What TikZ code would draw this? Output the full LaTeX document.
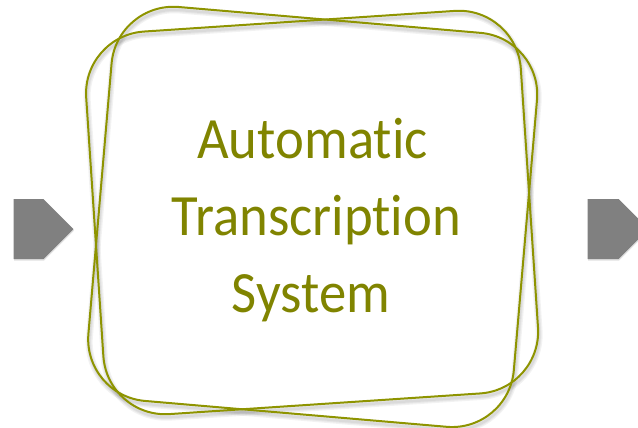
\documentclass[tikz,border=0pt]{standalone}
\usepackage{fontspec}
\setmainfont[Ligatures={NoCommon,NoRare}, FakeStretch=0.935]{Carlito}
\definecolor{olivedraw}{RGB}{142,148,0}
\definecolor{olivetext}{RGB}{128,132,0}
\definecolor{arrowgray}{RGB}{128,128,128}
\begin{document}
\begin{tikzpicture}[x=1pt,y=-1pt,
  frame/.style={draw=olivedraw, line width=2pt, rounded corners=62pt},
  frameshade/.style={draw=black, line width=#1, rounded corners=62pt, opacity=0.05},
  chevron/.style={fill=arrowgray},
  chevronshade/.style={fill=black, opacity=0.12},
  caption/.style={text=olivetext, font=\fontsize{58.5}{70}\selectfont, anchor=base, inner sep=0pt}]
\useasboundingbox (0,0) rectangle (638,428);

% soft shadows under the two frames
\foreach \lw in {7pt,4.5pt,2.5pt} {
  \begin{scope}[shift={(313.1,215.5)}, rotate=3.8]
    \draw[frameshade=\lw] (-217.8,-191.7) rectangle (217.8,191.7);
  \end{scope}
  \begin{scope}[shift={(313.7,219.9)}, rotate=-4.9]
    \draw[frameshade=\lw] (-213.5,-197.7) rectangle (213.5,197.7);
  \end{scope}
}

% the two tilted rounded frames
\begin{scope}[shift={(312.1,212.5)}, rotate=3.8]
  \draw[frame] (-217.8,-191.7) rectangle (217.8,191.7);
\end{scope}
\begin{scope}[shift={(312.7,216.9)}, rotate=-4.9]
  \draw[frame] (-213.5,-197.7) rectangle (213.5,197.7);
\end{scope}

% process arrows
\path[chevronshade] (14,200.5) -- (44,200.5) -- (74,230.5) -- (44,260.5) -- (14,260.5) -- cycle;
\path[chevron] (13.5,199) -- (43.5,199) -- (73.5,229) -- (43.5,259) -- (13.5,259) -- cycle;
\path[chevronshade] (588,200.5) -- (619,200.5) -- (649,230.5) -- (619,260.5) -- (588,260.5) -- cycle;
\path[chevron] (587.5,199) -- (618.5,199) -- (648.5,229) -- (618.5,259) -- (587.5,259) -- cycle;

% label
\node[caption] (l1) at (312.5,158) {Automatic};
\node[caption] (l2) at (316.5,235) {Transcription};
\node[caption] (l3) at (311,312) {System};
\end{tikzpicture}
\end{document}
